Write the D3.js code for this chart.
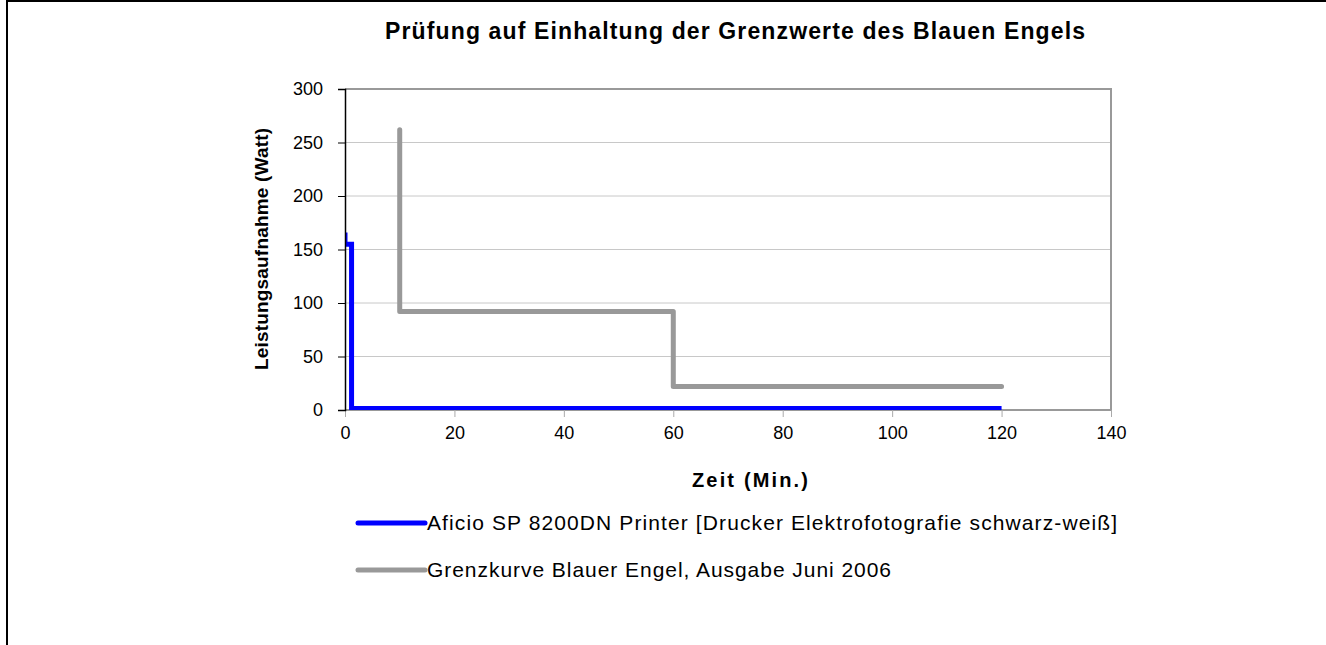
<!DOCTYPE html>
<html>
<head>
<meta charset="utf-8">
<script src="https://cdn.jsdelivr.net/npm/d3@7"></script>
<style>
  body { margin: 0; background: #fff; }
  text { font-family: "Liberation Sans", Arial, sans-serif; fill: #000; }
</style>
</head>
<body>
<svg id="chart" width="1326" height="645"></svg>
<script>
// chart data
const title = "Prüfung auf Einhaltung der Grenzwerte des Blauen Engels";
const xLabel = "Zeit (Min.)";
const yLabel = "Leistungsaufnahme (Watt)";
const xTicks = [0, 20, 40, 60, 80, 100, 120, 140];
const yTicks = [0, 50, 100, 150, 200, 250, 300];

const printerName = "Aficio SP 8200DN Printer [Drucker Elektrofotografie schwarz-weiß]";
const printerTime = [0, 0, 1.2, 1.2, 120];
const printerWatt = [166, 155, 155, 1.5, 1.5];

const limitName = "Grenzkurve Blauer Engel, Ausgabe Juni 2006";
const limitTime = [10, 10, 60, 60, 120];
const limitWatt = [262, 92, 92, 22, 22];

const svg = d3.select("#chart");

// outer frame (only left and top edges are visible)
svg.append("path")
  .attr("d", "M7,645 V1 H1326")
  .attr("fill", "none")
  .attr("stroke", "#000")
  .attr("stroke-width", 2);

const x = d3.scaleLinear().domain([0, 140]).range([345, 1111]);
const y = d3.scaleLinear().domain([0, 300]).range([410, 89]);

// clip series to plot area
svg.append("clipPath")
  .attr("id", "plot-clip")
  .append("rect")
  .attr("x", x(0)).attr("y", y(300))
  .attr("width", x(140) - x(0)).attr("height", y(0) - y(300));

// gridlines
svg.append("g")
  .selectAll("line")
  .data(yTicks.filter((d) => d > 0 && d < 300))
  .join("line")
  .attr("x1", x(0)).attr("x2", x(140))
  .attr("y1", (d) => y(d)).attr("y2", (d) => y(d))
  .attr("stroke", "#c8c8c8")
  .attr("stroke-width", 1);

// plot border (top, right, bottom)
svg.append("path")
  .attr("d", `M${x(0)},${y(300)} H${x(140)} V${y(0)} H${x(0)}`)
  .attr("fill", "none")
  .attr("stroke", "#999")
  .attr("stroke-width", 2);

// series lines
const line = d3.line().x((d) => x(d[0])).y((d) => y(d[1]));

const series = svg.append("g").attr("clip-path", "url(#plot-clip)");

series.append("path")
  .datum(limitTime.map((t, i) => [t, limitWatt[i]]))
  .attr("d", line)
  .attr("fill", "none")
  .attr("stroke", "#999")
  .attr("stroke-width", 5)
  .attr("stroke-linejoin", "round")
  .attr("stroke-linecap", "round");

series.append("path")
  .datum(printerTime.map((t, i) => [t, printerWatt[i]]))
  .attr("d", line)
  .attr("fill", "none")
  .attr("stroke", "#0000ff")
  .attr("stroke-width", 5)
  .attr("stroke-linejoin", "miter");

// x axis
const xAxis = svg.append("g")
  .attr("transform", `translate(0,${y(0)})`)
  .call(d3.axisBottom(x).tickValues(xTicks).tickSize(7).tickPadding(9));
xAxis.select(".domain").remove();
xAxis.selectAll(".tick line").attr("stroke", "#aaa");
xAxis.selectAll(".tick text").style("font-size", "18px");

// y axis
const yAxis = svg.append("g")
  .attr("transform", `translate(${x(0)},0)`)
  .call(d3.axisLeft(y).tickValues(yTicks).tickSize(7).tickPadding(15));
yAxis.select(".domain").attr("stroke", "#000").attr("stroke-width", 1.5);
yAxis.selectAll(".tick line").attr("stroke", "#000");
yAxis.selectAll(".tick text").style("font-size", "18px");

// titles
svg.append("text")
  .attr("x", 385).attr("y", 39)
  .attr("textLength", 700)
  .attr("lengthAdjust", "spacing")
  .style("font-size", "23px").style("font-weight", "bold")
  .text(title);

svg.append("text")
  .attr("x", 692).attr("y", 487)
  .attr("textLength", 116)
  .attr("lengthAdjust", "spacing")
  .style("font-size", "20px").style("font-weight", "bold")
  .text(xLabel);

svg.append("text")
  .attr("transform", `translate(268,370) rotate(-90)`)
  .attr("textLength", 242)
  .attr("lengthAdjust", "spacing")
  .style("font-size", "19px").style("font-weight", "bold")
  .text(yLabel);

// legend
const legendItems = [
  { name: printerName, color: "#0000ff", width: 690 },
  { name: limitName, color: "#999", width: 464 },
];
const legend = svg.append("g")
  .selectAll("g")
  .data(legendItems)
  .join("g")
  .attr("transform", (d, i) => `translate(358,${523 + i * 47})`);
legend.append("line")
  .attr("x1", 0).attr("x2", 67)
  .attr("stroke", (d) => d.color)
  .attr("stroke-width", 5)
  .attr("stroke-linecap", "round");
legend.append("text")
  .attr("x", 69).attr("y", 7)
  .attr("textLength", (d) => d.width)
  .attr("lengthAdjust", "spacing")
  .style("font-size", "21px")
  .text((d) => d.name);
</script>
</body>
</html>
